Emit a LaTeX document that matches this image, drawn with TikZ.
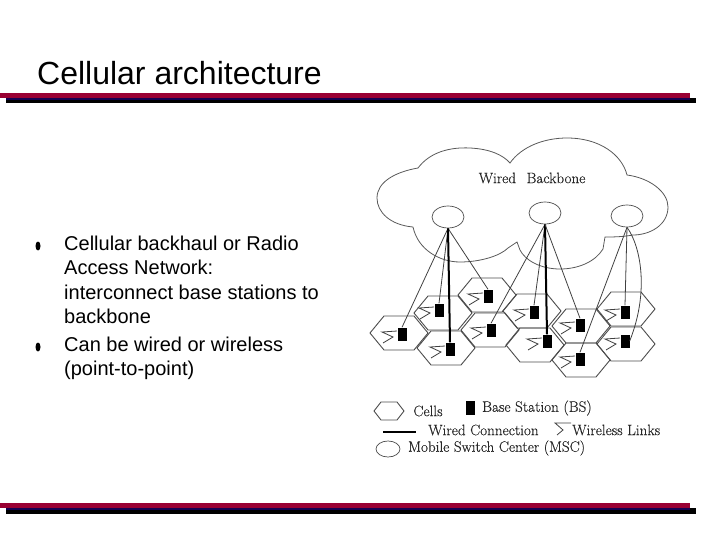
\documentclass[tikz,border=0pt]{standalone}
\usepackage{fontspec}
\setmainfont{Liberation Sans}
\newfontfamily\figfont[RawFeature={embolden=0.25}]{Latin Modern Roman}
\usetikzlibrary{shapes,arrows}
\definecolor{barred}{RGB}{153,0,51}
\definecolor{barnavy}{RGB}{20,0,80}
\tikzstyle{title} = [anchor=base west, inner sep=0pt, font=\fontsize{32}{36}\selectfont]
\tikzstyle{bodytext} = [anchor=north west, inner sep=0pt, align=left, font=\fontsize{20}{24.3}\selectfont]
\tikzstyle{bullet} = [draw=none, fill=black, ellipse, minimum width=5pt, minimum height=9pt, inner sep=0pt]
\tikzstyle{msc} = [draw=black!70, ellipse, line width=.7pt, minimum width=32pt, minimum height=22pt, inner sep=0pt]
\tikzstyle{bs} = [draw=none, fill=black, rectangle, minimum width=9pt, minimum height=13pt, inner sep=0pt]
\tikzstyle{cellline} = [draw=black!70, line width=.9pt]
\tikzstyle{thinlink} = [draw=black!75, line width=.8pt]
\tikzstyle{wired} = [draw=black, line width=2pt]
\tikzstyle{legend} = [inner sep=0pt, text=black!85, font=\figfont\fontsize{15.1}{16}\selectfont]
\def\hexcell#1{\draw[cellline] (#1) +(-29,0) -- +(-15,-17) -- +(15,-17) -- +(29,0) -- +(15,17) -- +(-15,17) -- cycle;}
\def\wlink#1{\draw[thinlink] (#1) +(-5,-3) -- +(-20,-2) -- +(-9,3) -- +(-19,9);}
\def\rulebar#1{
\fill[barred] (0,#1) rectangle (690,#1+5);
\fill[black] (6,#1+5) rectangle (696,#1+10.5);
\fill[barnavy] (6,#1+5) rectangle (690,#1+7);
}
\begin{document}
\begin{tikzpicture}[x=1pt,y=-1pt]
\useasboundingbox (0,0) rectangle (720,540);

\node [title] (heading) at (37,85) {Cellular architecture};
\rulebar{93}
\rulebar{503}

\node [bullet] (dot1) at (38,246) {};
\node [bullet] (dot2) at (38,347) {};
\node [bodytext] (text1) at (64,236) {Cellular backhaul or Radio\\Access Network:\\interconnect base stations to\\backbone};
\node [bodytext] (text2) at (64,337) {Can be wired or wireless\\(point-to-point)};

% the cloud
\draw[draw=black!65, line width=.8pt] (413,227) .. controls (390,225) and (377,212) .. (377,198)
 .. controls (377,182) and (395,172) .. (418,168) .. controls (430,152) and (450,147) .. (470,148)
 .. controls (490,149) and (503,155) .. (510,163) .. controls (522,146) and (545,138) .. (567,138)
 .. controls (600,138) and (622,155) .. (627,175) .. controls (650,178) and (668,192) .. (668,207)
 .. controls (668,225) and (650,235) .. (633,235) .. controls (622,237) and (612,237) .. (605,237)
 -- (603,249) .. controls (595,262) and (578,269) .. (560,269) .. controls (540,269) and (525,260) .. (520,250)
 -- (517,242) -- (508,248) .. controls (500,256) and (480,262) .. (460,262)
 .. controls (440,262) and (418,250) .. (413,227);
\node [legend] (backbone) at (532,178) {Wired\hspace{.7em}Backbone};

\node [msc] (msc1) at (448,217) {};
\node [msc] (msc2) at (545,213) {};
\node [msc] (msc3) at (627,216) {};

% the cells
\hexcell{399,333} \hexcell{443,313} \hexcell{487,295} \hexcell{490,330} \hexcell{446,348}
\hexcell{532,311} \hexcell{535,345} \hexcell{581,326} \hexcell{581,360} \hexcell{626,309} \hexcell{626,344}

\node [bs] (bs1) at (402,334) {};
\node [bs] (bs2) at (439,310) {};
\node [bs] (bs3) at (488,296) {};
\node [bs] (bs4) at (491,330) {};
\node [bs] (bs5) at (450,349) {};
\node [bs] (bs6) at (534,312) {};
\node [bs] (bs7) at (547,341) {};
\node [bs] (bs8) at (580,325) {};
\node [bs] (bs9) at (580,359) {};
\node [bs] (bs10) at (625,312) {};
\node [bs] (bs11) at (625,341) {};

\wlink{bs1} \wlink{bs2} \wlink{bs3} \wlink{bs4} \wlink{bs5} \wlink{bs6}
\wlink{bs7} \wlink{bs8} \wlink{bs9} \wlink{bs10} \wlink{bs11}

% links to the switch centers
\draw [thinlink] (msc1.south) -- (bs1.north);
\draw [thinlink] (msc1.south) -- (bs2.north);
\draw [thinlink] (msc1.south) -- (bs3.north);
\draw [wired] (msc1.south) -- (bs5.north);
\draw [thinlink] (msc2.south) -- (bs4.north);
\draw [thinlink] (msc2.south) -- (bs6.north);
\draw [wired] (msc2.south) -- (bs7.north);
\draw [thinlink] (msc2.south) -- (bs8.north);
\draw [thinlink] (msc3.south) -- (bs9.north);
\draw [thinlink] (msc3.south) -- (bs10.north);
\draw [thinlink] (msc3.south) .. controls (640,245) and (650,290) .. (bs11.east);

% the legend
\draw[cellline] (389,411) +(-15,0) -- +(-8,-9) -- +(8,-9) -- +(15,0) -- +(8,9) -- +(-8,9) -- cycle;
\node [legend] (lcells) at (428,411) {Cells};
\node [bs, minimum height=14pt] (lbs) at (470,408) {};
\node [legend, anchor=west] (lbstext) at (482,408) {Base Station (BS)};
\coordinate (wire1) at (383,432);
\coordinate (wire2) at (416,432);
\draw [black, line width=1.2pt] (wire1) -- (wire2);
\node [legend, anchor=west] (lwired) at (428,430) {Wired Connection};
\draw [thinlink] (571,423) -- (555,423) -- (563,430) -- (557,435);
\node [legend, anchor=west] (lwless) at (572,430) {Wireless Links};
\node [msc, minimum width=24pt, minimum height=16pt] (lmsc) at (388,449) {};
\node [legend, anchor=west] (lmsctext) at (408,448) {Mobile Switch Center (MSC)};
\end{tikzpicture}
\end{document}
